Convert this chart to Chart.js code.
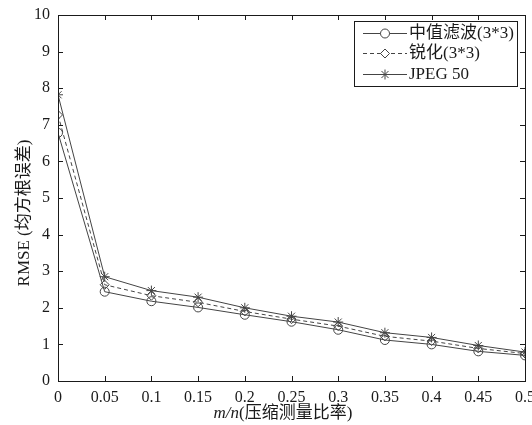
<!DOCTYPE html>
<html>
<head>
<meta charset="utf-8">
<script src="https://cdn.jsdelivr.net/npm/chart.js@4.4.0/dist/chart.umd.min.js"></script>
<style>
  html, body { margin: 0; padding: 0; background: #fff; }
  #wrap { width: 532px; height: 425px; position: relative; }
</style>
</head>
<body>
<div id="wrap"><canvas id="chart" width="532" height="425"></canvas></div>
<script>
// ── Data ──────────────────────────────────────────────
const ratios = [0, 0.05, 0.1, 0.15, 0.2, 0.25, 0.3, 0.35, 0.4, 0.45, 0.5];
const medianRMSE  = [6.78, 2.44, 2.18, 2.01, 1.81, 1.62, 1.4, 1.12, 1.0, 0.81, 0.7];
const sharpenRMSE = [7.27, 2.63, 2.33, 2.15, 1.9, 1.69, 1.5, 1.22, 1.09, 0.89, 0.75];
const jpegRMSE    = [7.82, 2.85, 2.47, 2.29, 2.0, 1.77, 1.61, 1.32, 1.19, 0.97, 0.79];
const yTicks = [0, 1, 2, 3, 4, 5, 6, 7, 8, 9, 10];

const seriesNames = ['中值滤波(3*3)', '锐化(3*3)', 'JPEG 50'];
const FONT = '"Liberation Serif", "Noto Sans CJK SC", serif';
const INK = '#1a1a1a';
const LINE = '#444';

const toPoints = ys => ratios.map((x, i) => ({ x, y: ys[i] }));

// ── Small marker painter (for the legend) ─────────────
function drawMarker(ctx, style, x, y, r) {
  ctx.beginPath();
  if (style === 'circle') {
    ctx.arc(x, y, r, 0, Math.PI * 2);
  } else if (style === 'rectRot') {
    ctx.moveTo(x, y - r); ctx.lineTo(x + r, y); ctx.lineTo(x, y + r); ctx.lineTo(x - r, y); ctx.closePath();
  } else if (style === 'star') {
    for (let k = 0; k < 4; k++) {
      const a = k * Math.PI / 4;
      ctx.moveTo(x - r * Math.cos(a), y - r * Math.sin(a));
      ctx.lineTo(x + r * Math.cos(a), y + r * Math.sin(a));
    }
  }
  if (style !== 'star') { ctx.fillStyle = '#fff'; ctx.fill(); }
  ctx.stroke();
}

// ── Frame, inward ticks, titles, legend ───────────────
const matlabLook = {
  id: 'matlabLook',
  afterDraw(chart) {
    const { ctx, chartArea: a, scales } = chart;
    ctx.save();
    ctx.strokeStyle = INK;
    ctx.lineWidth = 1;
    ctx.setLineDash([]);
    ctx.strokeRect(a.left + 0.5, a.top + 0.5, a.right - a.left, a.bottom - a.top);

    const t = 5;
    ctx.beginPath();
    ratios.forEach(v => {
      const px = Math.round(scales.x.getPixelForValue(v)) + 0.5;
      ctx.moveTo(px, a.bottom); ctx.lineTo(px, a.bottom - t);
      ctx.moveTo(px, a.top); ctx.lineTo(px, a.top + t);
    });
    yTicks.forEach(v => {
      const py = Math.round(scales.y.getPixelForValue(v)) + 0.5;
      ctx.moveTo(a.left, py); ctx.lineTo(a.left + t, py);
      ctx.moveTo(a.right, py); ctx.lineTo(a.right - t, py);
    });
    ctx.stroke();

    // y title
    ctx.fillStyle = INK;
    ctx.font = '17px ' + FONT;
    ctx.textAlign = 'center';
    ctx.textBaseline = 'middle';
    ctx.save();
    ctx.translate(25, 213);
    ctx.rotate(-Math.PI / 2);
    ctx.fillText('RMSE (均方根误差)', 0, 0);
    ctx.restore();

    // x title: italic m/n + normal rest
    const part1 = 'm/n', part2 = '(压缩测量比率)';
    ctx.font = 'italic 17px ' + FONT;
    const w1 = ctx.measureText(part1).width;
    ctx.font = '17px ' + FONT;
    const w2 = ctx.measureText(part2).width;
    const x0 = 283 - (w1 + w2) / 2;
    ctx.textAlign = 'left';
    ctx.font = 'italic 17px ' + FONT;
    ctx.fillText(part1, x0, 414);
    ctx.font = '17px ' + FONT;
    ctx.fillText(part2, x0 + w1, 414);

    // legend
    const box = { x: 354, y: 21, w: 163, h: 65 };
    ctx.fillStyle = '#fff';
    ctx.fillRect(box.x, box.y, box.w, box.h);
    ctx.strokeStyle = INK;
    ctx.strokeRect(box.x + 0.5, box.y + 0.5, box.w, box.h);
    const rowsY = [33, 53, 74];
    chart.data.datasets.forEach((ds, i) => {
      const y = rowsY[i];
      ctx.strokeStyle = LINE;
      ctx.lineWidth = 1;
      ctx.setLineDash(ds.borderDash || []);
      ctx.beginPath();
      ctx.moveTo(363, y + 0.5); ctx.lineTo(407, y + 0.5);
      ctx.stroke();
      ctx.setLineDash([]);
      drawMarker(ctx, ds.pointStyle, 385, y + 0.5, ds.pointRadius);
      ctx.fillStyle = INK;
      ctx.font = '17px ' + FONT;
      ctx.textAlign = 'left';
      ctx.textBaseline = 'middle';
      ctx.fillText(ds.label, 409, y + 1);
    });
    ctx.restore();
  }
};

function makeSet(label, ys, style, dash) {
  return {
    label,
    data: toPoints(ys),
    borderColor: LINE,
    borderWidth: 1,
    borderDash: dash,
    pointStyle: style,
    pointRadius: style === 'star' ? 5 : 4.5,
    pointBorderColor: LINE,
    pointBackgroundColor: 'rgba(255,255,255,0)',
    pointBorderWidth: 1,
    tension: 0
  };
}

new Chart(document.getElementById('chart'), {
  type: 'line',
  data: {
    datasets: [
      makeSet(seriesNames[0], medianRMSE, 'circle', []),
      makeSet(seriesNames[1], sharpenRMSE, 'rectRot', [4, 3]),
      makeSet(seriesNames[2], jpegRMSE, 'star', [])
    ]
  },
  options: {
    responsive: false,
    animation: false,
    devicePixelRatio: 1,
    layout: { padding: { top: 15, right: 7, left: 0, bottom: 0 } },
    plugins: { legend: { display: false }, tooltip: { enabled: false } },
    scales: {
      x: {
        type: 'linear',
        min: 0, max: 0.5,
        afterBuildTicks: s => { s.ticks = ratios.map(v => ({ value: v })); },
        afterFit: s => { s.height = 44; s.paddingLeft = 0; s.paddingRight = 0; },
        ticks: {
          color: INK, padding: 7, maxRotation: 0, autoSkip: false,
          font: { family: FONT, size: 16 },
          callback: v => String(+v.toFixed(2))
        },
        grid: { display: false, drawTicks: false },
        border: { display: false }
      },
      y: {
        min: 0, max: 10,
        afterBuildTicks: s => { s.ticks = yTicks.map(v => ({ value: v })); },
        afterFit: s => { s.width = 58; s.paddingTop = 0; s.paddingBottom = 0; },
        ticks: {
          color: INK, padding: 8,
          font: { family: FONT, size: 16 }
        },
        grid: { display: false, drawTicks: false },
        border: { display: false }
      }
    }
  },
  plugins: [matlabLook]
});
</script>
</body>
</html>
